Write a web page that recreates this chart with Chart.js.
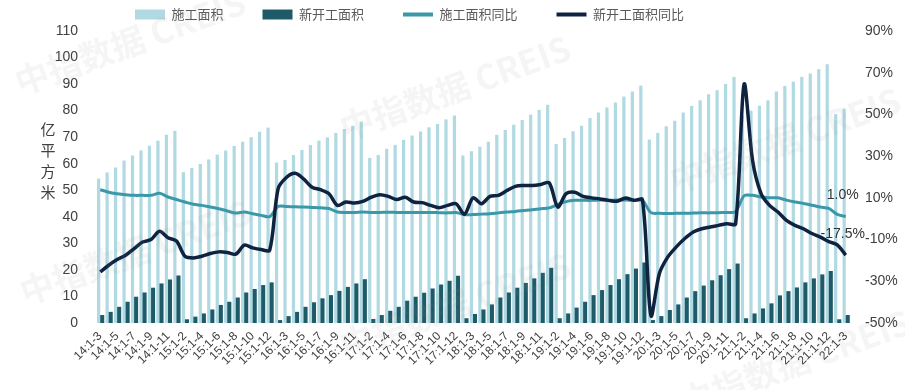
<!DOCTYPE html>
<html>
<head>
<meta charset="utf-8">
<script src="https://cdn.jsdelivr.net/npm/chart.js@4.4.0/dist/chart.umd.min.js"></script>
<style>
  html, body { margin: 0; padding: 0; background: #fff; }
</style>
</head>
<body>
<canvas id="chart" width="905" height="390"></canvas>
<script>
// categories: 14:1-3 ... 22:1-3 (cumulative months)
const years = ['14', '15', '16', '17', '18', '19', '20', '21', '22'];
const xLabels = [];
years.forEach(y => {
	const first = (y === '14') ? 3 : 2;
	const last = (y === '22') ? 3 : 12;
	for (let m = first; m <= last; m++) xLabels.push(y + ':1-' + m);
});

// 施工面积 (亿平方米)
const areaBuilding = [
	54.4, 56.7, 58.6, 61.2, 63.1, 65.0, 66.8, 68.7, 70.9, 72.4,
	56.8, 58.4, 59.9, 61.6, 63.4, 65.0, 66.7, 68.3, 70.0, 72.0, 73.6,
	60.5, 61.4, 63.3, 65.2, 67.1, 68.7, 69.9, 71.6, 73.1, 74.3, 75.9,
	62.2, 63.3, 65.6, 67.1, 69.0, 70.6, 72.1, 73.7, 75.0, 76.7, 78.2,
	63.1, 64.7, 66.4, 68.3, 70.9, 72.7, 74.7, 76.5, 78.5, 80.3, 82.2,
	67.4, 69.7, 72.2, 74.3, 77.2, 79.3, 81.2, 83.1, 85.3, 87.2, 89.4,
	69.1, 71.6, 74.1, 76.2, 79.3, 81.8, 83.9, 86.2, 87.7, 90.0, 92.7,
	78.0, 80.0, 81.8, 83.9, 87.2, 89.3, 90.9, 92.7, 94.0, 95.6, 97.5,
	78.7, 80.8
];
// 新开工面积 (亿平方米)
const areaNewStart = [
	3.0, 4.2, 6.1, 8.0, 9.9, 11.5, 13.3, 14.9, 16.4, 17.9,
	1.4, 2.4, 3.6, 5.1, 6.8, 8.0, 9.6, 11.5, 12.8, 14.3, 15.3,
	1.1, 2.6, 4.2, 6.1, 7.8, 9.3, 10.5, 12.1, 13.6, 14.9, 16.5,
	1.5, 3.0, 4.6, 6.1, 8.4, 9.9, 11.4, 13.0, 14.5, 15.9, 17.8,
	1.8, 3.4, 5.1, 7.0, 9.6, 11.5, 13.3, 15.1, 16.8, 18.9, 20.8,
	1.8, 3.6, 5.8, 8.0, 10.5, 12.4, 14.3, 16.5, 18.4, 20.5, 22.8,
	1.1, 2.6, 4.9, 7.0, 9.6, 12.0, 14.1, 16.1, 18.0, 20.3, 22.4,
	1.8, 3.6, 5.5, 7.4, 10.4, 12.0, 13.4, 15.3, 16.8, 18.3, 19.6,
	1.4, 3.0
];
// 施工面积同比 (%)
const yoyBuilding = [
	13.9, 12.7, 12.0, 11.5, 11.2, 11.2, 11.2, 12.2, 10.4, 9.2,
	8.0, 6.9, 6.4, 5.6, 4.8, 3.7, 2.7, 3.2, 2.4, 1.6, 1.0,
	5.9, 5.9, 5.7, 5.6, 5.4, 5.2, 4.9, 3.2, 3.0, 3.0, 3.2,
	3.0, 3.0, 3.1, 3.0, 3.0, 3.0, 3.0, 3.0, 2.9, 2.8, 3.0,
	1.9, 2.0, 2.2, 2.4, 2.8, 3.2, 3.5, 3.9, 4.3, 4.8, 5.2,
	6.8, 8.2, 8.8, 8.8, 8.8, 9.0, 8.8, 9.0, 9.0, 8.7, 8.7,
	2.9, 2.6, 2.5, 2.6, 2.6, 2.7, 2.8, 2.8, 2.9, 3.0, 3.4,
	11.0, 11.2, 10.4, 10.1, 10.0, 8.9, 8.0, 7.3, 6.5, 5.6, 4.9,
	2.1, 1.0
];
// 新开工面积同比 (%)
const yoyNewStart = [
	-25.5, -22.3, -19.6, -17.5, -14.3, -11.2, -10.0, -6.0, -9.1, -10.7,
	-18.0, -18.8, -18.0, -16.7, -15.9, -16.2, -17.0, -12.7, -14.0, -14.8, -15.1,
	14.4, 19.9, 21.8, 19.1, 15.1, 13.9, 12.0, 6.4, 8.0, 7.5, 8.3,
	10.3, 11.5, 10.7, 9.2, 10.3, 8.0, 7.7, 6.4, 5.3, 6.4, 7.2,
	2.1, 10.0, 7.2, 10.7, 11.2, 13.5, 15.5, 15.9, 15.9, 16.4, 17.2,
	5.6, 12.0, 12.7, 10.7, 10.0, 9.5, 8.8, 8.4, 9.9, 8.8, 9.1,
	-46.5, -26.3, -18.3, -13.5, -9.5, -6.4, -4.8, -4.0, -3.2, -2.4, -2.4,
	64.5, 27.9, 12.0, 6.4, 3.2, -0.8, -3.2, -4.8, -7.1, -8.8, -11.0,
	-12.5, -17.5
];

const yTitle = ['亿', '平', '方', '米'];
const watermarks = [[130, 42], [455, 88], [135, 252], [455, 305], [785, 140], [795, 362]];

Chart.defaults.font.family = '"Liberation Sans", "Noto Sans CJK SC", sans-serif';
Chart.defaults.color = '#404040';

// 纵轴单位, 竖排
const yTitlePlugin = {
	id: 'yTitle',
	afterDraw(chart) {
		const ctx = chart.ctx;
		ctx.save();
		ctx.font = '15px "Noto Sans CJK SC"';
		ctx.fillStyle = '#404040';
		ctx.textAlign = 'center';
		ctx.textBaseline = 'middle';
		yTitle.forEach((c, i) => ctx.fillText(c, 48, 129 + i * 21));
		ctx.restore();
	}
};

// 最后一个点的数值
const endLabels = {
	id: 'endLabels',
	afterDatasetsDraw(chart) {
		const ctx = chart.ctx;
		[2, 3].forEach(di => {
			const meta = chart.getDatasetMeta(di);
			const pt = meta.data[meta.data.length - 1];
			const data = chart.data.datasets[di].data;
			const v = data[data.length - 1];
			ctx.save();
			ctx.font = '14px "Liberation Sans"';
			ctx.fillStyle = '#333';
			ctx.textAlign = 'center';
			ctx.textBaseline = 'middle';
			ctx.fillText(v.toFixed(1) + '%', pt.x - 3, pt.y - 21);
			ctx.restore();
		});
	}
};

// 水印
const watermark = {
	id: 'watermark',
	afterDraw(chart) {
		const ctx = chart.ctx;
		ctx.save();
		ctx.font = 'bold 34px "Noto Sans CJK SC"';
		ctx.fillStyle = 'rgba(140,140,140,0.09)';
		ctx.textAlign = 'center';
		ctx.textBaseline = 'middle';
		watermarks.forEach(p => {
			ctx.save();
			ctx.translate(p[0], p[1]);
			ctx.rotate(-20 * Math.PI / 180);
			ctx.fillText('中指数据 CREIS', 0, 0);
			ctx.restore();
		});
		ctx.restore();
	}
};

const ctx = document.getElementById('chart').getContext('2d');
const chart = new Chart(ctx, {
	type: 'bar',
	data: {
		labels: xLabels,
		datasets: [{
			label: '施工面积',
			data: areaBuilding,
			yAxisID: 'y',
			backgroundColor: '#b0d9e2',
			categoryPercentage: 0.76,
			barPercentage: 1.0,
			order: 2
		}, {
			label: '新开工面积',
			data: areaNewStart,
			yAxisID: 'y',
			backgroundColor: '#1f5a68',
			categoryPercentage: 0.76,
			barPercentage: 1.5,
			order: 3
		}, {
			type: 'line',
			label: '施工面积同比',
			data: yoyBuilding,
			yAxisID: 'y1',
			borderColor: '#3a98a8',
			backgroundColor: '#3a98a8',
			borderWidth: 3,
			pointRadius: 0,
			tension: 0.3,
			order: 1
		}, {
			type: 'line',
			label: '新开工面积同比',
			data: yoyNewStart,
			yAxisID: 'y1',
			borderColor: '#0f2340',
			backgroundColor: '#0f2340',
			borderWidth: 3.5,
			pointRadius: 0,
			tension: 0.3,
			order: 0
		}]
	},
	options: {
		responsive: false,
		animation: false,
		layout: { padding: { top: -31, left: 0, right: 0, bottom: 0 } },
		plugins: {
			tooltip: { enabled: false },
			legend: {
				position: 'top',
				align: 'start',
				fullSize: false,
				labels: {
					padding: 39,
					boxWidth: 30,
					boxHeight: 10,
					color: '#595959',
					font: { size: 13, family: '"Noto Sans CJK SC"' },
					sort: (a, b) => a.datasetIndex - b.datasetIndex,
					generateLabels: function(chart) {
						return chart.data.datasets.map((ds, i) => {
							const isLine = ds.type === 'line';
							return {
								text: ds.label,
								datasetIndex: i,
								fillStyle: ds.backgroundColor,
								strokeStyle: isLine ? ds.borderColor : ds.backgroundColor,
								lineWidth: isLine ? 4 : 0,
								pointStyle: isLine ? 'line' : 'rect',
								fontColor: '#595959',
								hidden: false
							};
						});
					},
					usePointStyle: true,
					pointStyleWidth: 30
				}
			}
		},
		scales: {
			x: {
				grid: { display: false, drawTicks: false },
				border: { display: false },
				ticks: {
					autoSkip: false,
					maxRotation: 45,
					minRotation: 45,
					padding: 6,
					font: { size: 12 },
					callback: function(value, index) {
						return index % 2 === 0 ? xLabels[index] : '';
					}
				},
				afterFit: function(scale) { scale.height = 67; }
			},
			y: {
				position: 'left',
				min: 0,
				max: 110,
				grid: { display: false, drawTicks: false },
				border: { display: false },
				ticks: { stepSize: 10, padding: 18, font: { size: 14 } },
				afterFit: function(scale) { scale.width = 96; }
			},
			y1: {
				position: 'right',
				min: -50,
				max: 90,
				grid: { display: false, drawTicks: false },
				border: { display: false },
				ticks: {
					stepSize: 20,
					padding: 15,
					font: { size: 14 },
					callback: function(value) { return value + '%'; }
				},
				afterFit: function(scale) { scale.width = 55; }
			}
		}
	},
	plugins: [yTitlePlugin, endLabels, watermark]
});
</script>
</body>
</html>
